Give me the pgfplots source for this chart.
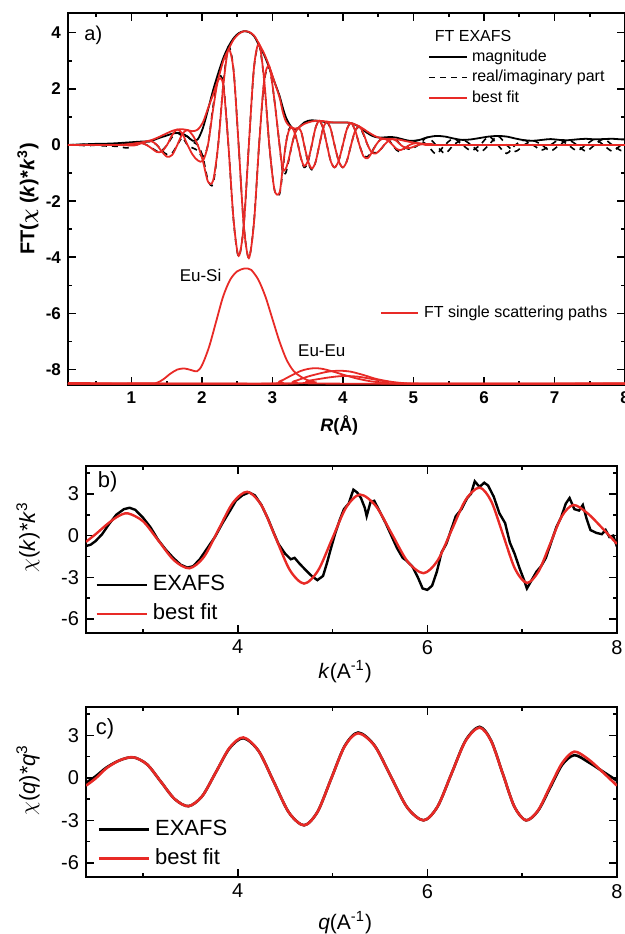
\documentclass[border=0pt]{standalone}
\usepackage{fontspec}
\setmainfont{Liberation Sans}
\usepackage{bm}
\usepackage{pgfplots}
\pgfplotsset{compat=1.18}
\definecolor{fitred}{RGB}{232,42,38}
\pgfplotsset{
  common/.style={scale only axis, clip=true,
    /pgf/number format/assume math mode=true,
    axis line style={line width=0.9pt},
    every tick/.style={line width=0.8pt,black},
    tick align=inside, major tick length=4pt, minor tick length=2.2pt},
}
\begin{document}
\begin{tikzpicture}
\path[use as bounding box] (0,0) rectangle (312.5pt,-467pt);

% ---------------- panel a ----------------
\begin{axis}[common, at={(34pt,-6.5pt)}, anchor=north west,
  width=278.5pt, height=186pt,
  xmin=0.1, xmax=8, ymin=-8.55, ymax=4.7,
  xtick={1,...,8}, ytick={-8,-6,...,4},
  minor xtick={0.5,1.5,...,7.5}, minor ytick={-7,-5,...,3},
  tick label style={font=\fontsize{8.5}{10}\selectfont\bfseries},
  xlabel={\textbf{\textit{R}(Å)}},
  xlabel style={font=\fontsize{9}{11}\selectfont, at={(axis description cs:0.487,-0.1075)}, anchor=center},
  ylabel={\bfseries FT($\bm{\chi}$ (\textit{k})*\textit{k}$^{\mathbf{3}}$)},
  ylabel style={font=\fontsize{10}{12}\selectfont, at={(axis description cs:-0.072,0.5)}, anchor=center},
  legend image code/.code={\draw[#1] (0pt,0pt) -- (19pt,0pt);},
  legend style={at={(axis description cs:0.646,0.903)}, anchor=north west,
    draw=none, fill=none, inner sep=0pt, column sep=2pt, row sep=2.75pt,
    font=\fontsize{8}{9}\selectfont,
    nodes={inner sep=0pt, text height=6pt, text depth=1.5pt}},
  legend cell align=left,
]
% black magnitude
\addplot[black, line width=0.9pt, smooth] coordinates {
(0.1,0) (0.3,0.02) (0.5,0.04) (0.7,0.05) (0.9,0.08) (1.07,0.11) (1.14,0.12) (1.215,0.12) (1.29,0.15) (1.36,0.22) (1.43,0.28) (1.505,0.34) (1.578,0.4) (1.65,0.43) (1.723,0.4) (1.795,0.3) (1.868,0.15) (1.94,0.2) (2.013,0.6) (2.085,1.25) (2.158,1.95) (2.23,2.55) (2.303,3.1) (2.375,3.5) (2.448,3.8) (2.52,3.98) (2.593,4.05) (2.665,4.02) (2.738,3.88) (2.81,3.55) (2.883,3.2) (2.955,2.75) (3.028,2.25) (3.10,1.75) (3.144,1.35) (3.188,1.0) (3.231,0.78) (3.275,0.62) (3.319,0.56) (3.363,0.6) (3.406,0.7) (3.45,0.8) (3.504,0.86) (3.558,0.88) (3.611,0.87) (3.665,0.85) (3.719,0.83) (3.773,0.8) (3.826,0.8) (3.88,0.8) (3.939,0.8) (3.998,0.8) (4.056,0.8) (4.115,0.78) (4.174,0.72) (4.233,0.64) (4.291,0.52) (4.35,0.42) (4.409,0.33) (4.468,0.28) (4.526,0.26) (4.585,0.27) (4.644,0.28) (4.703,0.28) (4.761,0.26) (4.82,0.22) (4.945,0.15) (5.07,0.17) (5.195,0.27) (5.32,0.32) (5.445,0.3) (5.57,0.23) (5.695,0.18) (5.82,0.2) (5.945,0.25) (6.07,0.3) (6.195,0.32) (6.32,0.3) (6.445,0.23) (6.57,0.17) (6.695,0.15) (6.82,0.18) (6.945,0.21) (7.07,0.18) (7.195,0.17) (7.32,0.2) (7.445,0.22) (7.57,0.2) (7.695,0.21) (7.82,0.22) (7.945,0.2) (8.0,0.2)
};
\addlegendentry{magnitude}
% black real part (dashed)
\addplot[black, line width=0.8pt, dash pattern=on 3pt off 2.5pt, smooth] coordinates {
(0.1,0) (0.4,0.02) (0.6,-0.03) (0.8,-0.05) (0.95,-0.1) (1.07,0.11) (1.14,0.085) (1.215,0) (1.29,-0.106) (1.36,-0.22) (1.43,-0.198) (1.505,0) (1.578,0.283) (1.65,0.43) (1.723,0.283) (1.795,0) (1.868,-0.106) (1.94,-0.2) (2.013,-0.424) (2.085,0) (2.158,1.38) (2.23,2.4) (2.303,2.19) (2.375,0) (2.448,-2.69) (2.52,-3.98) (2.593,-2.86) (2.665,0) (2.738,2.74) (2.81,3.55) (2.883,2.26) (2.955,0) (3.028,-1.59) (3.10,-1.75) (3.144,-0.95) (3.188,0) (3.231,0.55) (3.275,0.62) (3.319,0.40) (3.363,0) (3.406,-0.49) (3.45,-0.8) (3.504,-0.61) (3.558,0) (3.611,0.615) (3.665,0.85) (3.719,0.587) (3.773,0) (3.826,-0.566) (3.88,-0.8) (3.939,-0.566) (3.998,0) (4.056,0.566) (4.115,0.78) (4.174,0.51) (4.233,0) (4.291,-0.368) (4.35,-0.42) (4.409,-0.233) (4.468,0) (4.526,0.184) (4.585,0.27) (4.644,0.198) (4.703,0) (4.761,-0.184) (4.82,-0.22) (4.945,0) (5.07,0.17) (5.195,0) (5.32,-0.32) (5.445,0) (5.57,0.23) (5.695,0) (5.82,-0.2) (5.945,0) (6.07,0.3) (6.195,0) (6.32,-0.3) (6.445,0) (6.57,0.17) (6.695,0) (6.82,-0.18) (6.945,0) (7.07,0.18) (7.195,0) (7.32,-0.2) (7.445,0) (7.57,0.2) (7.695,0) (7.82,-0.22) (7.945,0) (8.0,0.05)
};
\addlegendentry{real/imaginary part}
% black imaginary part (dashed)
\addplot[black, line width=0.8pt, dash pattern=on 3pt off 2.5pt, smooth, forget plot] coordinates {
(0.1,0) (0.4,-0.02) (0.6,0.02) (0.8,0.03) (0.95,0.05) (1.07,0) (1.14,0.085) (1.215,0.12) (1.29,0.106) (1.36,0) (1.43,-0.198) (1.505,-0.34) (1.578,-0.283) (1.65,0) (1.723,0.283) (1.795,0.3) (1.868,0.106) (1.94,0) (2.013,-0.424) (2.085,-1.25) (2.158,-1.38) (2.23,0) (2.303,2.19) (2.375,3.5) (2.448,2.69) (2.52,0) (2.593,-2.86) (2.665,-4.02) (2.738,-2.74) (2.81,0) (2.883,2.26) (2.955,2.75) (3.028,1.59) (3.10,0) (3.144,-0.95) (3.188,-1.0) (3.231,-0.55) (3.275,0) (3.319,0.40) (3.363,0.6) (3.406,0.49) (3.45,0) (3.504,-0.61) (3.558,-0.88) (3.611,-0.615) (3.665,0) (3.719,0.587) (3.773,0.8) (3.826,0.566) (3.88,0) (3.939,-0.566) (3.998,-0.8) (4.056,-0.566) (4.115,0) (4.174,0.51) (4.233,0.64) (4.291,0.368) (4.35,0) (4.409,-0.233) (4.468,-0.28) (4.526,-0.184) (4.585,0) (4.644,0.198) (4.703,0.28) (4.761,0.184) (4.82,0) (4.945,-0.15) (5.07,0) (5.195,0.27) (5.32,0) (5.445,-0.3) (5.57,0) (5.695,0.18) (5.82,0) (5.945,-0.25) (6.07,0) (6.195,0.32) (6.32,0) (6.445,-0.23) (6.57,0) (6.695,0.15) (6.82,0) (6.945,-0.21) (7.07,0) (7.195,0.17) (7.32,0) (7.445,-0.22) (7.57,0) (7.695,0.21) (7.82,0) (7.945,-0.2) (8.0,-0.15)
};
% red fit magnitude
\addplot[fitred, line width=0.9pt, smooth] coordinates {
(0.1,0) (0.8,0.0) (1.0,0.04) (1.07,0.06) (1.14,0.09) (1.215,0.13) (1.29,0.18) (1.36,0.25) (1.43,0.33) (1.505,0.42) (1.578,0.5) (1.65,0.55) (1.723,0.56) (1.795,0.53) (1.868,0.49) (1.94,0.55) (2.013,0.8) (2.085,1.3) (2.158,1.8) (2.23,2.35) (2.303,3.0) (2.375,3.4) (2.448,3.75) (2.52,3.95) (2.593,4.05) (2.665,4.03) (2.738,3.9) (2.81,3.6) (2.883,3.25) (2.955,2.8) (3.028,2.25) (3.10,1.7) (3.144,1.2) (3.188,0.85) (3.231,0.7) (3.275,0.62) (3.319,0.58) (3.363,0.6) (3.406,0.68) (3.45,0.75) (3.504,0.8) (3.558,0.84) (3.611,0.86) (3.665,0.86) (3.719,0.85) (3.773,0.83) (3.826,0.81) (3.88,0.8) (3.939,0.8) (3.998,0.8) (4.056,0.8) (4.115,0.78) (4.174,0.73) (4.233,0.66) (4.291,0.57) (4.35,0.47) (4.409,0.38) (4.468,0.3) (4.526,0.25) (4.585,0.22) (4.644,0.21) (4.703,0.21) (4.761,0.2) (4.82,0.18) (4.883,0.14) (4.945,0.11) (5.008,0.08) (5.07,0.06) (5.195,0.03) (5.4,0) (8,0)
};
\addlegendentry{best fit}
% red fit real part
\addplot[fitred, line width=0.9pt, smooth, forget plot] coordinates {
(0.1,0) (0.8,0) (1.0,0.03) (1.07,0.06) (1.14,0.064) (1.215,0) (1.29,-0.127) (1.36,-0.25) (1.43,-0.233) (1.505,0) (1.578,0.354) (1.65,0.55) (1.723,0.396) (1.795,0) (1.868,-0.346) (1.94,-0.55) (2.013,-0.566) (2.085,0) (2.158,1.27) (2.23,2.3) (2.303,2.12) (2.375,0) (2.448,-2.65) (2.52,-3.95) (2.593,-2.86) (2.665,0) (2.738,2.76) (2.81,3.6) (2.883,2.30) (2.955,0) (3.028,-1.59) (3.10,-1.7) (3.144,-0.85) (3.188,0) (3.231,0.5) (3.275,0.62) (3.319,0.41) (3.363,0) (3.406,-0.48) (3.45,-0.75) (3.504,-0.566) (3.558,0) (3.611,0.608) (3.665,0.86) (3.719,0.60) (3.773,0) (3.826,-0.573) (3.88,-0.8) (3.939,-0.566) (3.998,0) (4.056,0.566) (4.115,0.78) (4.174,0.516) (4.233,0) (4.291,-0.403) (4.35,-0.47) (4.409,-0.27) (4.468,0) (4.526,0.177) (4.585,0.22) (4.644,0.148) (4.703,0) (4.761,-0.141) (4.82,-0.18) (4.883,-0.1) (4.945,0) (5.008,0.057) (5.07,0.06) (5.133,0.028) (5.195,0) (5.4,0) (8,0)
};
% red fit imaginary part
\addplot[fitred, line width=0.9pt, smooth, forget plot] coordinates {
(0.1,0) (0.8,0) (1.0,-0.02) (1.07,0) (1.14,0.064) (1.215,0.13) (1.29,0.127) (1.36,0) (1.43,-0.233) (1.505,-0.42) (1.578,-0.354) (1.65,0) (1.723,0.396) (1.795,0.53) (1.868,0.346) (1.94,0) (2.013,-0.566) (2.085,-1.3) (2.158,-1.27) (2.23,0) (2.303,2.12) (2.375,3.4) (2.448,2.65) (2.52,0) (2.593,-2.86) (2.665,-4.03) (2.738,-2.76) (2.81,0) (2.883,2.30) (2.955,2.8) (3.028,1.59) (3.10,0) (3.144,-0.85) (3.188,-0.85) (3.231,-0.5) (3.275,0) (3.319,0.41) (3.363,0.6) (3.406,0.48) (3.45,0) (3.504,-0.566) (3.558,-0.84) (3.611,-0.608) (3.665,0) (3.719,0.60) (3.773,0.83) (3.826,0.573) (3.88,0) (3.939,-0.566) (3.998,-0.8) (4.056,-0.566) (4.115,0) (4.174,0.516) (4.233,0.66) (4.291,0.403) (4.35,0) (4.409,-0.27) (4.468,-0.3) (4.526,-0.177) (4.585,0) (4.644,0.148) (4.703,0.21) (4.761,0.141) (4.82,0) (4.883,-0.1) (4.945,-0.11) (5.008,-0.057) (5.07,0) (5.133,0.028) (5.195,0.03) (5.4,0) (8,0)
};
\node[font=\fontsize{10}{12}\selectfont] at (axis cs:0.46,3.9) {a)};
\node[anchor=west, font=\fontsize{8}{9}\selectfont] at (axis description cs:0.646,0.938) {FT EXAFS};
\node[font=\fontsize{8.5}{10}\selectfont] at (axis cs:1.98,-4.65) {Eu-Si};
\node[font=\fontsize{8.5}{10}\selectfont] at (axis cs:3.70,-7.32) {Eu-Eu};
\end{axis}

% overlay axis: single scattering paths
\begin{axis}[scale only axis, at={(34pt,-6.5pt)}, anchor=north west,
  width=278.5pt, height=186pt, hide axis,
  xmin=0.1, xmax=8, ymin=-8.55, ymax=4.7,
  legend image code/.code={\draw[#1] (0pt,0pt) -- (18.5pt,0pt);},
  legend style={at={(axis description cs:0.56,0.215)}, anchor=north west,
    draw=none, fill=none, inner sep=0pt, column sep=2.5pt,
    font=\fontsize{8}{9}\selectfont,
    nodes={inner sep=0pt, text height=6pt, text depth=1.5pt}},
]
\addplot[fitred, line width=0.9pt, smooth] coordinates {
(0.1,-8.5) (1.2,-8.5) (1.35,-8.48) (1.45,-8.35) (1.55,-8.15) (1.65,-8.0) (1.75,-7.96) (1.85,-8.02) (1.93,-8.06) (2.0,-7.85) (2.1,-7.2) (2.2,-6.3) (2.3,-5.4) (2.4,-4.8) (2.5,-4.5) (2.6,-4.4) (2.65,-4.4) (2.7,-4.45) (2.8,-4.8) (2.9,-5.4) (3.0,-6.2) (3.1,-7.0) (3.2,-7.65) (3.3,-8.05) (3.4,-8.25) (3.5,-8.38) (3.6,-8.45) (3.8,-8.5) (8,-8.5)
};
\addlegendentry{FT single scattering paths}
\addplot[fitred, line width=0.9pt, smooth, forget plot] coordinates {
(0.1,-8.5) (2.9,-8.5) (3.1,-8.42) (3.2,-8.3) (3.3,-8.17) (3.4,-8.05) (3.5,-7.98) (3.6,-7.95) (3.7,-7.97) (3.8,-8.03) (3.9,-8.1) (4.0,-8.18) (4.1,-8.25) (4.2,-8.32) (4.4,-8.42) (4.6,-8.47) (4.8,-8.5) (8,-8.5)
};
\addplot[fitred, line width=0.9pt, smooth, forget plot] coordinates {
(0.1,-8.48) (3.1,-8.5) (3.3,-8.42) (3.5,-8.25) (3.7,-8.12) (3.8,-8.07) (3.95,-8.04) (4.1,-8.07) (4.2,-8.13) (4.3,-8.2) (4.4,-8.28) (4.5,-8.35) (4.7,-8.44) (4.9,-8.49) (5.1,-8.5) (8,-8.5)
};
\addplot[fitred, line width=0.9pt, smooth, forget plot] coordinates {
(0.1,-8.5) (3.2,-8.5) (3.5,-8.4) (3.8,-8.28) (4.0,-8.23) (4.2,-8.25) (4.4,-8.33) (4.6,-8.42) (4.9,-8.5) (8,-8.5)
};
\end{axis}

% ---------------- panel b ----------------
\begin{axis}[common, at={(43pt,-233pt)}, anchor=north west,
  width=265.5pt, height=83.5pt,
  xmin=2.4, xmax=8, ymin=-7, ymax=5,
  xtick={4,6,8}, minor xtick={3,5,7},
  ytick={-6,-3,0,3}, minor ytick={-4.5,-1.5,1.5,4.5},
  tick label style={font=\fontsize{10}{12}\selectfont},
  xlabel={\textit{k}(A\textsuperscript{-1})},
  xlabel style={font=\fontsize{10.5}{12}\selectfont, at={(axis description cs:0.488,-0.234)}, anchor=center},
  ylabel={$\chi$(\textit{k})*\textit{k}\textsuperscript{3}},
  ylabel style={font=\fontsize{11}{13}\selectfont, at={(axis description cs:-0.109,0.575)}, anchor=center},
  legend image code/.code={\draw[#1] (0pt,0pt) -- (25pt,0pt);},
  legend style={at={(axis description cs:0.017,0.05)}, anchor=south west,
    draw=none, fill=none, inner sep=0pt, column sep=2.5pt, row sep=4.3pt,
    font=\fontsize{11}{13}\selectfont,
    nodes={inner sep=0pt, text height=8pt, text depth=2.2pt}},
  legend cell align=left,
]
\addplot[black, line width=1.2pt] coordinates {
(2.40,-0.75) (2.45,-0.65) (2.5,-0.4) (2.57,0.1) (2.64,0.8) (2.72,1.5) (2.8,1.9) (2.86,2.0) (2.92,1.85) (3.0,1.3) (3.08,0.6) (3.16,-0.3) (3.24,-1.0) (3.32,-1.6) (3.4,-2.1) (3.47,-2.3) (3.53,-2.2) (3.6,-1.7) (3.68,-0.9) (3.76,-0.1) (3.84,0.9) (3.92,1.8) (3.98,2.5) (4.05,2.9) (4.12,3.1) (4.18,2.9) (4.25,2.2) (4.32,1.2) (4.38,0.2) (4.43,-0.6) (4.5,-1.3) (4.56,-1.7) (4.6,-1.6) (4.65,-2.0) (4.72,-2.5) (4.78,-2.9) (4.84,-3.2) (4.9,-2.9) (4.94,-2.0) (4.98,-1.0) (5.03,0.2) (5.08,1.2) (5.12,1.9) (5.17,2.3) (5.22,3.3) (5.26,3.1) (5.3,2.7) (5.34,2.0) (5.36,1.4) (5.4,2.4) (5.44,2.5) (5.5,1.7) (5.56,0.9) (5.62,0.0) (5.68,-0.9) (5.74,-1.6) (5.78,-1.8) (5.84,-2.2) (5.9,-3.0) (5.95,-3.8) (6.0,-3.9) (6.05,-3.6) (6.1,-2.6) (6.15,-1.2) (6.2,-0.6) (6.25,0.4) (6.3,1.4) (6.36,1.9) (6.42,2.7) (6.46,3.0) (6.5,3.9) (6.55,3.5) (6.6,3.8) (6.64,3.6) (6.7,2.8) (6.76,1.6) (6.82,0.9) (6.87,-0.5) (6.92,-1.3) (6.97,-2.3) (7.02,-3.2) (7.05,-3.8) (7.1,-3.2) (7.15,-2.6) (7.2,-2.2) (7.25,-1.6) (7.3,-0.6) (7.36,0.6) (7.41,1.3) (7.46,2.3) (7.5,2.7) (7.55,1.9) (7.6,1.8) (7.64,2.2) (7.68,1.2) (7.72,0.4) (7.78,0.2) (7.84,0.1) (7.88,0.4) (7.92,-0.1) (7.96,0.0) (8.0,-0.8)
};
\addlegendentry{EXAFS}
\addplot[fitred, line width=1.2pt, smooth] coordinates {
(2.40,-0.45) (2.51,0.15) (2.62,0.8) (2.73,1.35) (2.84,1.6) (3.0025,1.02) (3.165,-0.375) (3.3275,-1.77) (3.49,-2.35) (3.6425,-1.544) (3.795,0.4) (3.9475,2.344) (4.10,3.15) (4.25,2.18) (4.40,-0.15) (4.55,-2.48) (4.70,-3.45) (4.8475,-2.51) (4.995,-0.25) (5.1425,2.01) (5.29,2.95) (5.4575,2.12) (5.625,0.125) (5.7925,-1.87) (5.96,-2.7) (6.1075,-1.80) (6.255,0.375) (6.4025,2.55) (6.55,3.45) (6.675,2.45) (6.80,0.025) (6.925,-2.40) (7.05,-3.4) (7.1725,-2.58) (7.295,-0.6) (7.4175,1.38) (7.54,2.2) (7.69,1.6) (7.85,0.5) (8.0,-0.6)
};
\addlegendentry{best fit}
\node[font=\fontsize{11}{13}\selectfont] at (axis description cs:0.041,0.904) {b)};
\end{axis}

% ---------------- panel c ----------------
\begin{axis}[common, at={(43pt,-353.5pt)}, anchor=north west,
  width=265.5pt, height=85pt,
  xmin=2.4, xmax=8, ymin=-7, ymax=5,
  xtick={4,6,8}, minor xtick={3,5,7},
  ytick={-6,-3,0,3}, minor ytick={-4.5,-1.5,1.5,4.5},
  tick label style={font=\fontsize{10}{12}\selectfont},
  xlabel={\textit{q}(A\textsuperscript{-1})},
  xlabel style={font=\fontsize{10.5}{12}\selectfont, at={(axis description cs:0.488,-0.27)}, anchor=center},
  ylabel={$\chi$(\textit{q})*\textit{q}\textsuperscript{3}},
  ylabel style={font=\fontsize{11}{13}\selectfont, at={(axis description cs:-0.109,0.57)}, anchor=center},
  legend image code/.code={\draw[#1] (0pt,0pt) -- (25pt,0pt);},
  legend style={at={(axis description cs:0.021,0.047)}, anchor=south west,
    draw=none, fill=none, inner sep=0pt, column sep=2.5pt, row sep=4.3pt,
    font=\fontsize{11}{13}\selectfont,
    nodes={inner sep=0pt, text height=8pt, text depth=2.2pt}},
  legend cell align=left,
]
\addplot[black, line width=1.3pt, smooth] coordinates {
(2.40,-0.35) (2.5,0.1) (2.62,0.75) (2.76,1.25) (2.9,1.45) (3.045,0.945) (3.19,-0.275) (3.335,-1.495) (3.48,-2.0) (3.625,-1.297) (3.77,0.4) (3.915,2.097) (4.06,2.8) (4.22,1.899) (4.38,-0.275) (4.54,-2.449) (4.7,-3.35) (4.8425,-2.39) (4.985,-0.075) (5.1275,2.24) (5.27,3.2) (5.4425,2.29) (5.615,0.1) (5.7875,-2.09) (5.96,-3.0) (6.1075,-2.03) (6.255,0.3) (6.4025,2.63) (6.55,3.6) (6.6725,2.63) (6.795,0.3) (6.9175,-2.03) (7.04,-3.0) (7.1675,-2.326) (7.295,-0.7) (7.4225,0.926) (7.55,1.6) (7.7,1.1) (7.85,0.45) (8.0,-0.2)
};
\addlegendentry{EXAFS}
\addplot[fitred, line width=1.3pt, smooth] coordinates {
(2.40,-0.55) (2.5,-0.05) (2.62,0.7) (2.76,1.25) (2.9,1.45) (3.045,0.945) (3.19,-0.275) (3.335,-1.495) (3.48,-2.0) (3.625,-1.297) (3.77,0.4) (3.915,2.13) (4.06,2.85) (4.22,1.9) (4.38,-0.275) (4.54,-2.449) (4.7,-3.35) (4.8425,-2.39) (4.985,-0.075) (5.1275,2.22) (5.27,3.15) (5.4425,2.27) (5.615,0.1) (5.7875,-2.09) (5.96,-3.0) (6.1075,-2.03) (6.255,0.3) (6.4025,2.6) (6.55,3.55) (6.6725,2.6) (6.795,0.3) (6.9175,-2.03) (7.04,-3.0) (7.1675,-2.3) (7.295,-0.6) (7.4225,1.05) (7.55,1.85) (7.7,1.3) (7.85,0.4) (8.0,-0.55)
};
\addlegendentry{best fit}
\node[font=\fontsize{11}{13}\selectfont] at (axis description cs:0.036,0.87) {c)};
\end{axis}
\end{tikzpicture}
\end{document}
